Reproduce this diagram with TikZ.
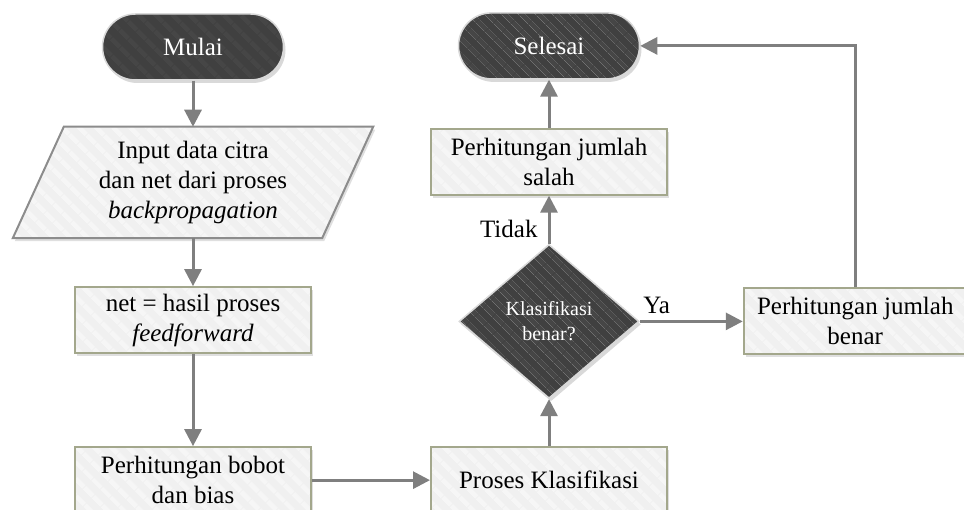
\documentclass[tikz,border=0pt]{standalone}
\usepackage{fontspec}
\setmainfont{Liberation Serif}
\usetikzlibrary{positioning, shapes.geometric, arrows.meta, shadows, patterns.meta, calc, backgrounds}
\definecolor{darkfill}{HTML}{404040}
\definecolor{darkstripe}{HTML}{464646}
\definecolor{boxfill}{HTML}{F0F0F0}
\definecolor{boxstripe}{HTML}{F6F6F6}
\definecolor{boxline}{HTML}{A3A78C}
\definecolor{flowline}{HTML}{7F7F7F}

\begin{document}
\begin{tikzpicture}
        [
            x=1pt, y=1pt,
            txt/.style={font=\fontsize{25}{30}\selectfont},
            dark/.style={draw=black!15, line width=1.5pt, text=white,
                         drop shadow={shadow xshift=2pt, shadow yshift=-3pt, opacity=0.3},
                         preaction={fill=darkfill},
                         preaction={pattern={Lines[angle=-45,distance=13pt,line width=5pt]},
                                    pattern color=darkstripe}},
            light/.style={line width=2pt,
                          drop shadow={shadow xshift=2pt, shadow yshift=-3pt, opacity=0.25},
                          preaction={fill=boxfill},
                          preaction={pattern={Lines[angle=-45,distance=13pt,line width=5pt]},
                                     pattern color=boxstripe}},
            terminal/.style={rectangle, rounded corners=33pt, minimum width=181pt,
                             minimum height=66pt, inner sep=0pt, txt, dark},
            box/.style={rectangle, minimum width=236pt, minimum height=66pt,
                        inner sep=0pt, align=center, txt, light, draw=boxline},
            decision/.style={diamond, aspect=1.17, minimum width=180pt, minimum height=154pt,
                             inner sep=0pt, align=center,
                             font=\fontsize{20}{25}\selectfont, dark},
            io/.style={rectangle, minimum width=258pt, minimum height=111pt,
                       inner sep=0pt, align=center, txt},
            iobox/.style={light, draw=black!45},
            arrow/.style={-{Triangle[width=17pt,length=17pt]}, draw=flowline, line width=3pt},
            lbl/.style={txt, inner sep=2pt}
        ]
        \useasboundingbox (0,0) rectangle (964,-510);
        \node (start) [terminal] at (193,-47) {Mulai};
        \node (input) [io, below=46pt of start] {Input data citra\\dan net dari proses\\\textit{backpropagation}};
        \node (feed) [box, below=48pt of input] {net = hasil proses\\\textit{feedforward}};
        \node (bobot) [box, below=92pt of feed] {Perhitungan bobot\\dan bias};
        \node (proses) [box, right=118pt of bobot] {Proses Klasifikasi};
        \node (cek) [decision, above=47pt of proses] {Klasifikasi\\benar?};
        \node (salah) [box, above=48pt of cek] {Perhitungan jumlah\\salah};
        \node (stop) [terminal, above=48pt of salah] {Selesai};
        \node (benar) [box, minimum width=223pt, right=103pt of cek] {Perhitungan jumlah\\benar};
        \begin{scope}[on background layer]
            \draw [iobox] (input.north west) -- ($(input.north east)+(51,0)$)
                -- (input.south east) -- ($(input.south west)+(-51,0)$) -- cycle;
        \end{scope}
        \foreach \i/\j in {start/input, input/feed, feed/bobot, bobot/proses, proses/cek, salah/stop}
            \draw [arrow] (\i) -- (\j);
        \draw [arrow] (cek) -- node [lbl, left=8pt, pos=0.3] {Tidak} (salah);
        \draw [arrow] (cek) -- node [lbl, above right, pos=0, yshift=4pt] {Ya} (benar);
        \draw [arrow] (benar.north) |- (stop.east);
    \end{tikzpicture}
\end{document}
